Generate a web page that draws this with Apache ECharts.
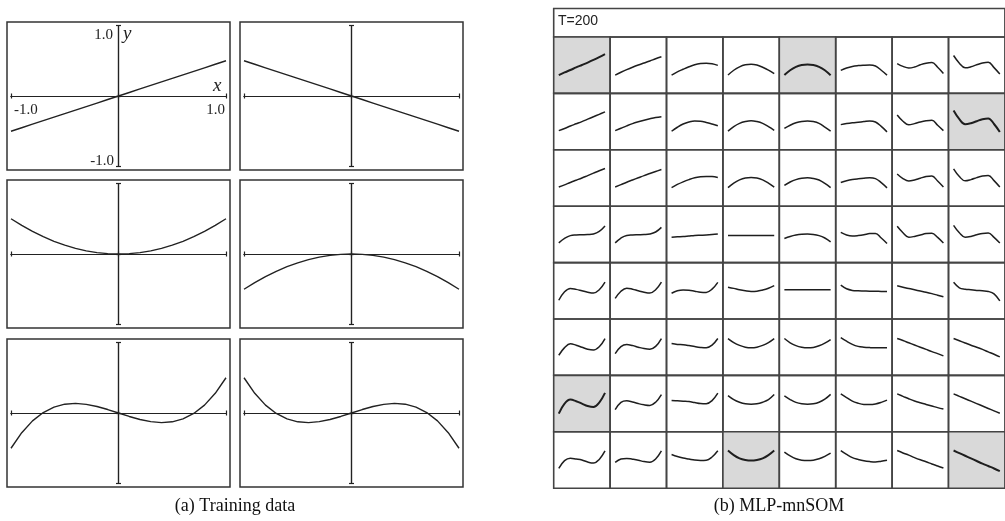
<!DOCTYPE html>
<html><head><meta charset="utf-8">
<script src="https://cdn.jsdelivr.net/npm/echarts@6/dist/echarts.min.js"></script>
<style>html,body{margin:0;padding:0;background:#fff}#c{width:1005px;height:521px}</style>
</head><body><div id="c"></div>
<script>
// ---------- Training data (panel a) ----------
const trainX   = [-1,-0.9,-0.8,-0.7,-0.6,-0.5,-0.4,-0.3,-0.2,-0.1,0,0.1,0.2,0.3,0.4,0.5,0.6,0.7,0.8,0.9,1];
const lineUp   = [-0.5,-0.45,-0.4,-0.35,-0.3,-0.25,-0.2,-0.15,-0.1,-0.05,0,0.05,0.1,0.15,0.2,0.25,0.3,0.35,0.4,0.45,0.5];
const lineDown = [0.5,0.45,0.4,0.35,0.3,0.25,0.2,0.15,0.1,0.05,0,-0.05,-0.1,-0.15,-0.2,-0.25,-0.3,-0.35,-0.4,-0.45,-0.5];
const bowlUp   = [0.5,0.405,0.32,0.245,0.18,0.125,0.08,0.045,0.02,0.005,0,0.005,0.02,0.045,0.08,0.125,0.18,0.245,0.32,0.405,0.5];
const bowlDown = [-0.5,-0.405,-0.32,-0.245,-0.18,-0.125,-0.08,-0.045,-0.02,-0.005,0,-0.005,-0.02,-0.045,-0.08,-0.125,-0.18,-0.245,-0.32,-0.405,-0.5];
const cubicUp  = [-0.5,-0.279,-0.112,0.007,0.084,0.125,0.136,0.123,0.092,0.049,0,-0.049,-0.092,-0.123,-0.136,-0.125,-0.084,-0.007,0.112,0.279,0.5];
const cubicDown= [0.5,0.279,0.112,-0.007,-0.084,-0.125,-0.136,-0.123,-0.092,-0.049,0,0.049,0.092,0.123,0.136,0.125,0.084,0.007,-0.112,-0.279,-0.5];
const tickLabels = ['-1.0','1.0'];
const axisNames = ['x','y'];

// ---------- MLP-mnSOM map (panel b), 8x8 cells ----------
const somX = [-1,-0.75,-0.5,-0.25,0,0.25,0.5,0.75,1];
const somRow0 = [
 [-0.49,-0.36,-0.24,-0.11,0.01,0.13,0.26,0.4,0.55],
 [-0.49,-0.35,-0.22,-0.1,0.01,0.11,0.21,0.32,0.42],
 [-0.49,-0.33,-0.2,-0.08,0.02,0.08,0.1,0.07,-0.01],
 [-0.49,-0.25,-0.08,0.02,0.05,0.01,-0.1,-0.24,-0.42],
 [-0.49,-0.25,-0.08,0.01,0.03,0.01,-0.08,-0.25,-0.5],
 [-0.26,-0.14,-0.06,-0.02,0.0,0.01,-0.04,-0.25,-0.49],
 [0.08,-0.06,-0.14,-0.09,0.02,0.1,0.13,-0.1,-0.41],
 [0.48,0.1,-0.13,-0.08,0.02,0.11,0.15,-0.12,-0.44]
];
const somRow1 = [
 [-0.45,-0.34,-0.22,-0.11,0,0.12,0.24,0.36,0.48],
 [-0.45,-0.33,-0.21,-0.1,-0.01,0.07,0.14,0.2,0.24],
 [-0.48,-0.28,-0.12,-0.02,0.03,0.02,-0.04,-0.12,-0.21],
 [-0.47,-0.25,-0.09,0.0,0.04,0.0,-0.09,-0.25,-0.43],
 [-0.34,-0.18,-0.06,0.01,0.03,0.0,-0.09,-0.27,-0.47],
 [-0.15,-0.1,-0.06,-0.03,0.0,0.03,-0.02,-0.24,-0.51],
 [0.33,0.02,-0.16,-0.1,-0.02,0.04,0.07,-0.18,-0.45],
 [0.55,0.12,-0.13,-0.08,0.02,0.12,0.16,-0.12,-0.52]
];
const somRow2 = [
 [-0.45,-0.34,-0.22,-0.11,0,0.12,0.24,0.36,0.47],
 [-0.45,-0.33,-0.21,-0.1,0.01,0.12,0.22,0.32,0.42],
 [-0.48,-0.32,-0.19,-0.08,0.01,0.06,0.08,0.07,0.02],
 [-0.48,-0.25,-0.09,0,0.02,0,-0.09,-0.25,-0.45],
 [-0.37,-0.2,-0.08,-0.01,0.01,-0.02,-0.1,-0.27,-0.48],
 [-0.22,-0.14,-0.08,-0.04,-0.01,0.01,-0.03,-0.23,-0.49],
 [0.2,-0.03,-0.15,-0.1,-0.01,0.07,0.1,-0.15,-0.45],
 [0.45,0.07,-0.14,-0.08,0.02,0.1,0.13,-0.13,-0.45]
];
const somRow3 = [
 [-0.42,-0.2,-0.06,-0.03,-0.02,-0.01,0.02,0.15,0.42],
 [-0.42,-0.18,-0.05,-0.03,-0.02,-0.01,0.02,0.12,0.35],
 [-0.14,-0.12,-0.11,-0.08,-0.05,-0.04,-0.03,-0.01,0.02],
 [-0.06,-0.06,-0.06,-0.06,-0.06,-0.06,-0.06,-0.06,-0.06],
 [-0.2,-0.1,-0.03,0.01,0.02,0.0,-0.06,-0.18,-0.37],
 [0.1,-0.03,-0.08,-0.06,-0.02,0.04,0.05,-0.18,-0.45],
 [0.4,0.08,-0.14,-0.1,-0.03,0.04,0.06,-0.15,-0.43],
 [0.45,0.08,-0.14,-0.1,-0.02,0.05,0.07,-0.15,-0.43]
];
const somRow4 = [
 [-0.47,-0.05,0.12,0.07,0.0,-0.07,-0.11,0.05,0.43],
 [-0.38,-0.02,0.13,0.08,0,-0.07,-0.11,0.05,0.43],
 [-0.12,0.0,0.04,0.03,-0.02,-0.07,-0.08,0.08,0.42],
 [0.18,0.12,0.05,0.0,-0.03,-0.02,0.04,0.13,0.26],
 [0.05,0.05,0.05,0.05,0.05,0.05,0.05,0.05,0.05],
 [0.28,0.1,0.02,0.0,-0.01,-0.02,-0.02,-0.03,-0.03],
 [0.25,0.18,0.11,0.05,-0.01,-0.07,-0.14,-0.22,-0.3],
 [0.42,0.15,0.08,0.05,0.02,0.0,-0.03,-0.15,-0.5]
];
const somRow5 = [
 [-0.4,-0.02,0.17,0.1,0.0,-0.1,-0.14,0.02,0.43],
 [-0.32,0.03,0.13,0.08,0,-0.07,-0.1,0.04,0.43],
 [0.18,0.14,0.12,0.08,0.03,-0.01,-0.03,0.1,0.43],
 [0.43,0.23,0.09,0.0,-0.03,0.0,0.09,0.23,0.43],
 [0.43,0.22,0.08,0,-0.03,-0.01,0.07,0.2,0.38],
 [0.48,0.3,0.14,0.04,0.0,-0.02,-0.03,-0.03,-0.03],
 [0.43,0.33,0.22,0.11,0,-0.11,-0.22,-0.32,-0.43],
 [0.43,0.32,0.21,0.1,0,-0.11,-0.23,-0.35,-0.48]
];
const somRow6 = [
 [-0.5,0.0,0.2,0.12,0.0,-0.12,-0.17,0.05,0.53],
 [-0.3,0.06,0.14,0.08,0.0,-0.06,-0.09,0.07,0.45],
 [0.16,0.14,0.12,0.1,0.05,0.0,-0.01,0.15,0.52],
 [0.4,0.2,0.07,-0.01,-0.03,-0.01,0.07,0.2,0.45],
 [0.38,0.2,0.06,-0.01,-0.03,-0.01,0.07,0.22,0.46],
 [0.48,0.3,0.12,0.02,-0.04,-0.05,-0.02,0.06,0.17],
 [0.48,0.36,0.24,0.13,0.04,-0.04,-0.12,-0.2,-0.27],
 [0.48,0.36,0.24,0.12,0.0,-0.12,-0.24,-0.36,-0.48]
];
const somRow7 = [
 [-0.42,-0.03,0.09,0.05,0.0,-0.1,-0.15,0.03,0.45],
 [-0.12,0.05,0.08,0.04,-0.01,-0.08,-0.11,0.05,0.45],
 [0.27,0.17,0.1,0.05,0.0,-0.02,-0.01,0.15,0.46],
 [0.47,0.24,0.08,0.0,-0.03,0.0,0.08,0.24,0.47],
 [0.39,0.2,0.06,-0.01,-0.03,-0.01,0.06,0.18,0.34],
 [0.47,0.28,0.12,0.03,-0.04,-0.08,-0.1,-0.06,-0.01],
 [0.47,0.35,0.24,0.12,0.01,-0.09,-0.2,-0.3,-0.4],
 [0.47,0.34,0.21,0.08,-0.05,-0.18,-0.3,-0.42,-0.55]
];
const somRows = [somRow0,somRow1,somRow2,somRow3,somRow4,somRow5,somRow6,somRow7];
const winnerCells = [[0,0],[0,4],[1,7],[6,0],[7,3],[7,7]];
const mapTitle = 'T=200';
const captionA = '(a) Training data';
const captionB = '(b) MLP-mnSOM';

// ---------- build option ----------
const grid = [], xAxis = [], yAxis = [], series = [];
const INK = '#222';
const serif = 'Liberation Serif';

function hiddenAxes(gi, xr, yr){
  xAxis.push({gridIndex:gi,type:'value',show:false,min:xr[0],max:xr[1],splitLine:{show:false}});
  yAxis.push({gridIndex:gi,type:'value',show:false,min:yr[0],max:yr[1],splitLine:{show:false}});
}

const trainCurves = [lineUp,lineDown,bowlUp,bowlDown,cubicUp,cubicDown];
const frameLeft = [7,240], frameTop = [22,180,339];
const FW = 223, FH = 148;
trainCurves.forEach((curve,i)=>{
  const r = Math.floor(i/2), c = i%2;
  const fl = frameLeft[c], ft = frameTop[r];
  grid.push({left:fl,top:ft,width:FW,height:FH,show:true,borderColor:'#333',borderWidth:1.5,backgroundColor:'transparent'});
  hiddenAxes(grid.length-1,[0,1],[0,1]);
  grid.push({left:fl+4,top:ft+3.5,width:FW-8,height:FH-7});
  const gi = grid.length-1;
  const axLine = {onZero:true,lineStyle:{color:INK,width:1.2}};
  const tick = {show:true,length:2.5,lineStyle:{color:INK,width:1.2}};
  const xi = xAxis.length;
  xAxis.push({gridIndex:gi,type:'value',min:-1,max:1,interval:1,position:'bottom',
    axisLine:axLine,axisTick:tick,splitLine:{show:false},axisLabel:{show:false}});
  xAxis.push({gridIndex:gi,type:'value',min:-1,max:1,interval:1,position:'top',
    axisLine:axLine,axisTick:tick,splitLine:{show:false},axisLabel:{show:false}});
  const yi = yAxis.length;
  yAxis.push({gridIndex:gi,type:'value',min:-1,max:1,interval:1,position:'left',
    axisLine:axLine,axisTick:tick,splitLine:{show:false},axisLabel:{show:false}});
  yAxis.push({gridIndex:gi,type:'value',min:-1,max:1,interval:1,position:'right',
    axisLine:axLine,axisTick:tick,splitLine:{show:false},axisLabel:{show:false}});
  series.push({type:'line',xAxisIndex:xi,yAxisIndex:yi,symbol:'none',silent:true,
    lineStyle:{color:INK,width:1.4},data:trainX.map((x,k)=>[x,curve[k]])});
});

// tick labels and axis names of the first training plot
const lblFont = '15px "Liberation Serif"';
const nameFont = 'italic 19px "Liberation Serif"';
function txt(text,x,y,align,valign,font){
  return {type:'text',x:x,y:y,silent:true,
    style:{text:text,font:font,fill:'#222',textAlign:align,textVerticalAlign:valign,align:align,verticalAlign:valign}};
}
const graphic = [
  txt(tickLabels[1],113,35,'right','middle',lblFont),
  txt(tickLabels[0],114,161,'right','middle',lblFont),
  txt(tickLabels[0],14,110,'left','middle',lblFont),
  txt(tickLabels[1],225,110,'right','middle',lblFont),
  txt(axisNames[0],213,86,'left','middle',nameFont),
  txt(axisNames[1],123,34,'left','middle',nameFont)
];

// panel b
const MAP_L = 553.7, MAP_T = 37, CELL = 56.4;
grid.push({left:MAP_L,top:8.5,width:CELL*8,height:MAP_T-8.5,show:true,borderColor:'#444',borderWidth:1.6,backgroundColor:'transparent'});
hiddenAxes(grid.length-1,[0,1],[0,1]);
const isWinner = (r,c)=>winnerCells.some(w=>w[0]===r&&w[1]===c);
somRows.forEach((row,r)=>{
  row.forEach((vals,c)=>{
    const win = isWinner(r,c);
    grid.push({left:MAP_L+c*CELL,top:MAP_T+r*CELL,width:CELL,height:CELL,show:true,
      borderColor:'#444',borderWidth:1.6,backgroundColor: win ? '#d9d9d9' : 'transparent'});
    const gi = grid.length-1;
    const xi = xAxis.length, yi = yAxis.length;
    hiddenAxes(gi,[-1.22,1.22],[-1.4,1.4]);
    series.push({type:'line',xAxisIndex:xi,yAxisIndex:yi,symbol:'none',silent:true,smooth:0.4,
      lineStyle:{color:'#1e1e1e',width: win ? 2 : 1.5},data:somX.map((x,k)=>[x,vals[k]])});
  });
});

const option = {
  backgroundColor:'#fff',
  animation:false,
  title:[
    {text:mapTitle,left:558,top:14,padding:0,textStyle:{fontFamily:'Liberation Sans',fontSize:14,fontWeight:'normal',color:'#222'}},
    {text:captionA,left:235,top:497,padding:0,textAlign:'center',textStyle:{fontFamily:serif,fontSize:18,fontWeight:'normal',color:'#111'}},
    {text:captionB,left:779,top:497,padding:0,textAlign:'center',textStyle:{fontFamily:serif,fontSize:18,fontWeight:'normal',color:'#111'}}
  ],
  graphic: graphic,
  grid, xAxis, yAxis, series
};
const chart = echarts.init(document.getElementById('c'),null,{renderer:'canvas'});
chart.setOption(option);
</script></body></html>
